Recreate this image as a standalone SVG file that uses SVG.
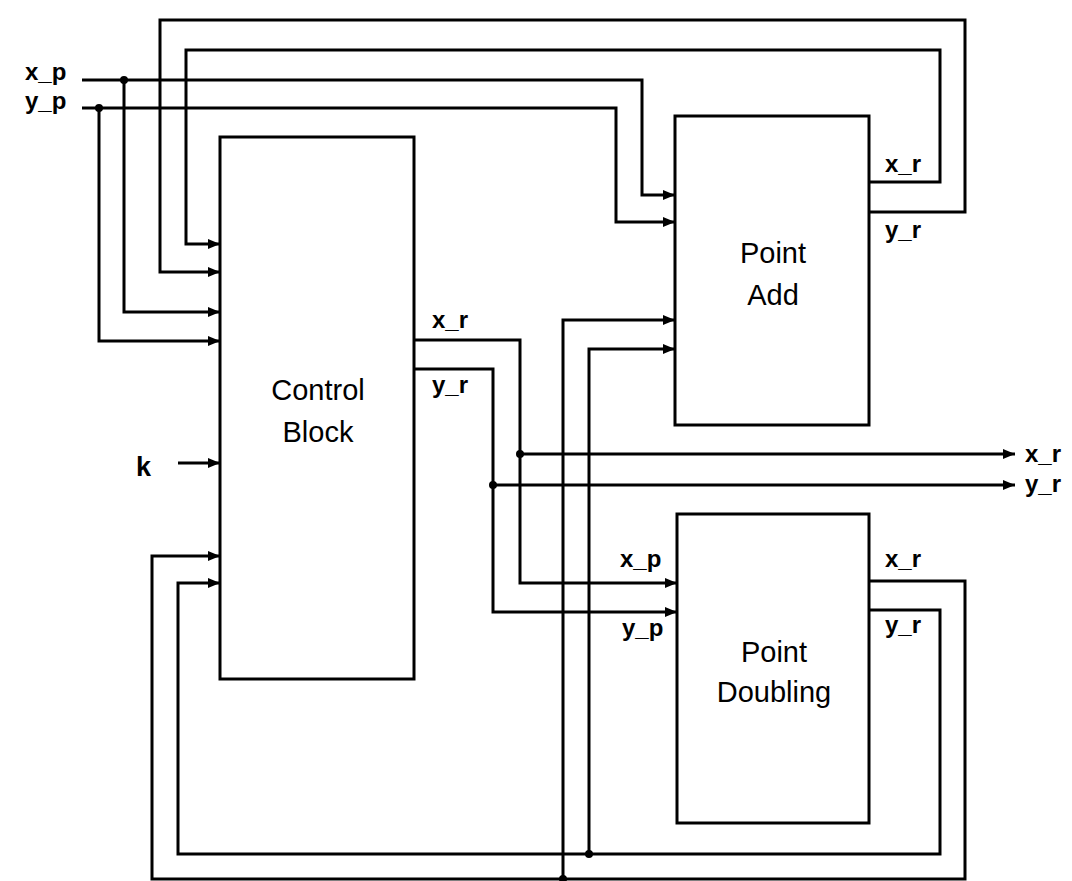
<svg xmlns="http://www.w3.org/2000/svg" width="1072" height="881" viewBox="0 0 1072 881">
<style>
.box{fill:#fff;stroke:#000;stroke-width:3}
.w{fill:none;stroke:#000;stroke-width:3;stroke-linejoin:miter}
.a{marker-end:url(#arr)}
.dot{fill:#000}
.big{font-family:"Liberation Sans",Arial,sans-serif;font-size:29px;text-anchor:middle;fill:#000}
.sm{font-family:"Liberation Sans",Arial,sans-serif;font-size:24px;font-weight:bold;fill:#000}
</style>
<defs>
<marker id="arr" markerUnits="userSpaceOnUse" markerWidth="12" markerHeight="10" refX="12" refY="5" orient="auto">
<path d="M0,0 L12,5 L0,10 Z" fill="#000"/>
</marker>
</defs>
<rect width="1072" height="881" fill="#fff"/>
<g id="control-block">
<rect class="box" x="220" y="137" width="194" height="542"/>
<text class="big" x="318" y="400">Control</text>
<text class="big" x="318" y="442">Block</text>
<text class="sm" x="432" y="328">x_r</text>
<text class="sm" x="432" y="393">y_r</text>
</g>
<g id="point-add">
<rect class="box" x="675" y="116" width="194" height="309"/>
<text class="big" x="773" y="263">Point</text>
<text class="big" x="773" y="305">Add</text>
<text class="sm" x="885" y="172">x_r</text>
<text class="sm" x="885" y="238">y_r</text>
</g>
<g id="point-doubling">
<rect class="box" x="677" y="514" width="192" height="309"/>
<text class="big" x="774" y="662">Point</text>
<text class="big" x="774" y="702">Doubling</text>
<text class="sm" x="620" y="567">x_p</text>
<text class="sm" x="622" y="636">y_p</text>
<text class="sm" x="885" y="567">x_r</text>
<text class="sm" x="885" y="633">y_r</text>
</g>
<g id="inputs">
<text class="sm" x="25" y="80">x_p</text>
<text class="sm" x="25" y="109">y_p</text>
<text class="sm" x="136" y="476" style="font-size:27px">k</text>
</g>
<g id="outputs">
<text class="sm" x="1025" y="462">x_r</text>
<text class="sm" x="1025" y="492">y_r</text>
</g>
<g id="connectors">
<path class="w a" d="M82,80 H642 V195 H675"/>
<path class="w a" d="M82,108 H616 V222 H675"/>
<path class="w a" d="M124,80 V312 H220"/>
<path class="w a" d="M99,108 V341 H220"/>
<path class="w a" d="M869,212 H965 V20 H160 V272 H220"/>
<path class="w a" d="M869,182 H940 V50 H186 V244 H220"/>
<path class="w a" d="M178,463 H220"/>
<path class="w a" d="M414,340 H520 V583 H677"/>
<path class="w a" d="M520,454 H1015"/>
<path class="w a" d="M414,369 H493 V612 H677"/>
<path class="w a" d="M493,485 H1015"/>
<path class="w a" d="M869,581 H965 V879 H152 V556 H220"/>
<path class="w a" d="M563,879 V320 H675"/>
<path class="w a" d="M869,610 H940 V854 H178 V583 H220"/>
<path class="w a" d="M589,854 V349 H675"/>
<circle class="dot" cx="124" cy="80" r="4"/>
<circle class="dot" cx="99" cy="108" r="4"/>
<circle class="dot" cx="520" cy="454" r="4"/>
<circle class="dot" cx="493" cy="485" r="4"/>
<circle class="dot" cx="563" cy="879" r="4"/>
<circle class="dot" cx="589" cy="854" r="4"/>
</g>
</svg>
